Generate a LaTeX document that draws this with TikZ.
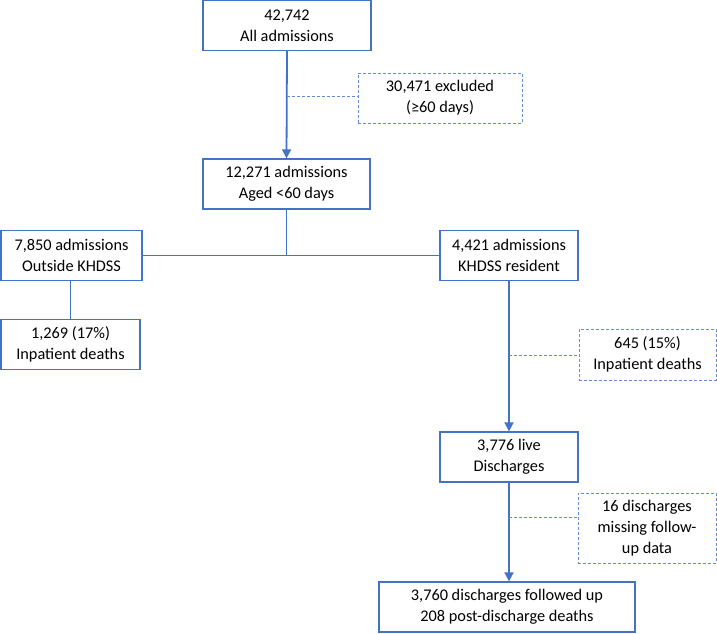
\documentclass[tikz,border=0pt]{standalone}
\usepackage{fontspec}
\setmainfont{Carlito}
\usetikzlibrary{arrows.meta,positioning}
\definecolor{boxblue}{RGB}{68,114,196}
\definecolor{dashblue}{RGB}{100,140,210}

\begin{document}
\begin{tikzpicture}[x=1pt,y=-1pt,
    box/.style={draw=boxblue, line width=1.3pt, align=center, minimum height=50pt,
      inner sep=2pt, font=\fontsize{16.3}{21}\selectfont},
    dbox/.style={box, draw=dashblue, line width=1pt, dash pattern=on 3pt off 2pt},
    flow/.style={draw=boxblue, line width=1.8pt, -{Triangle[length=9pt,width=9pt]}},
    link/.style={draw=boxblue, line width=1pt},
    side/.style={draw=dashblue, line width=1pt, dash pattern=on 3pt off 2pt}
    ]
\useasboundingbox (0,0) rectangle (717,633);
% main column
\node[box, minimum width=168pt] (all) at (287,25.5) {42,742\\All admissions};
\node[box, minimum width=167pt] (aged) at (286.5,184) {12,271 admissions\\Aged <60 days};
\node[box, minimum width=141pt] (out) at (71.5,255.5) {7,850 admissions\\Outside KHDSS};
\node[box, minimum width=138pt] (res) at (509,255.5) {4,421 admissions\\KHDSS resident};
\node[box, minimum width=139pt] (ipd) at (70.5,344.5) {1,269 (17\%)\\Inpatient deaths};
\node[box, minimum width=138pt] (live) at (509,457) {3,776 live\\Discharges};
\node[box, minimum width=256pt] (fol) at (507,607) {3,760 discharges followed up\\208 post-discharge deaths};
% exclusions
\node[dbox, minimum width=164pt] (excl) at (440,98) {30,471 excluded\\(≥60 days)};
\node[dbox, minimum width=137pt, minimum height=51pt] (ipdr) at (647.5,354.5) {645 (15\%)\\Inpatient deaths};
\node[dbox, minimum width=138pt, minimum height=70pt] (miss) at (647,528) {16 discharges\\missing follow-\\up data};

\draw[flow] (all.south) -- (aged.north);
\draw[link] (aged.south) -- (aged.south |- out.east);
\draw[link] (out.east) -- (res.west);
\draw[link] (out.south -| ipd.north) -- (ipd.north);
\draw[flow] (res.south) -- (live.north);
\draw[flow] (live.south) -- (live.south |- fol.north);

\coordinate (e1) at (287,96);
\coordinate (e2) at (509,355);
\coordinate (e3) at (509,517);
\draw[side] (e1) -- (excl.west |- e1);
\draw[side] (e2) -- (ipdr.west |- e2);
\draw[side] (e3) -- (miss.west |- e3);
\end{tikzpicture}
\end{document}
